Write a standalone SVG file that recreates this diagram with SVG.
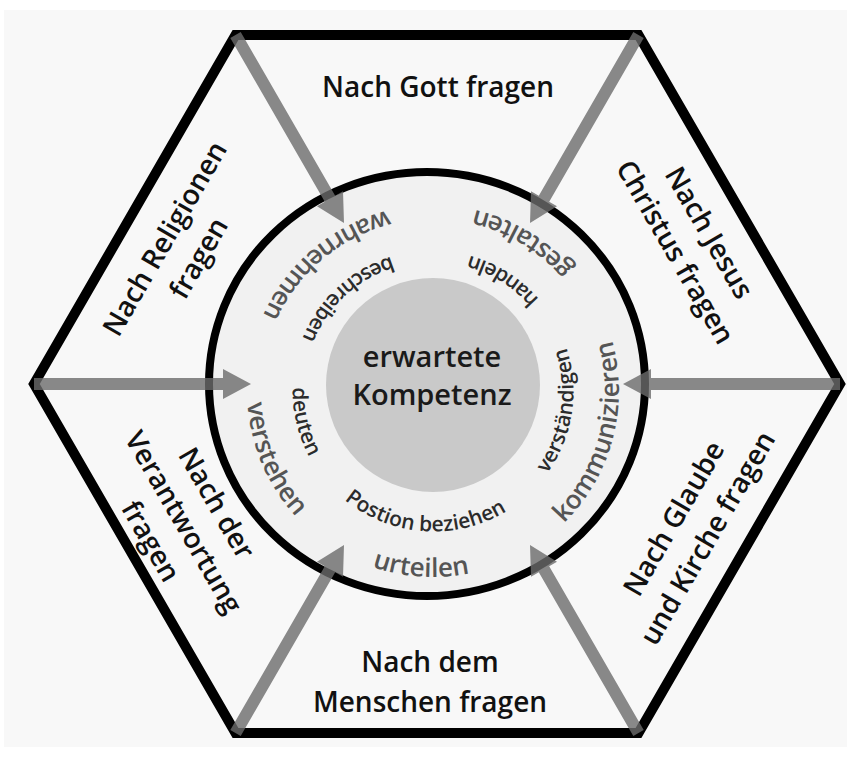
<svg xmlns="http://www.w3.org/2000/svg" width="847" height="757" viewBox="0 0 847 757">
  <style>
    text { font-family: "Open Sans", "Noto Sans", "DejaVu Sans", sans-serif; font-weight: 600; }
    .lab { font-size: 28px; fill: #111; text-anchor: middle; }
    .ctr { font-size: 29px; fill: #1a1a1a; text-anchor: middle; }
    .outer { font-size: 26px; fill: #555; }
    .inner { font-size: 21px; fill: #2b2b2b; }
    .arrow { fill: #6b6b6b; fill-opacity: 0.8; }
  </style>
  <defs>
    <path id="pOuter" d="M520.32,555.23 A186,186 0 0 0 345.68,226.77 A186,186 0 0 0 520.32,555.23"/>
    <path id="pInner" d="M529.16,494.12 A141,141 0 0 0 336.84,287.88 A141,141 0 0 0 529.16,494.12"/>
  </defs>
  <rect x="0" y="0" width="847" height="757" fill="#ffffff"/>
  <rect x="4" y="10" width="843" height="737" fill="#f8f8f8"/>

  <g id="hexagon">
    <polygon points="840,384 638.5,733 235.5,733 34,384 235.5,35 638.5,35" fill="none" stroke="#000" stroke-width="10" stroke-linejoin="miter"/>
  </g>

  <g id="ring">
    <ellipse cx="427" cy="384" rx="218" ry="212" fill="#f1f1f1" stroke="#000" stroke-width="8"/>
  </g>

  <g id="center">
    <circle cx="433" cy="385" r="107" fill="#c9c9c9"/>
    <text class="ctr" x="432" y="367">erwartete</text>
    <text class="ctr" x="432" y="405">Kompetenz</text>
  </g>

  <g id="competences">
    <text class="outer"><textPath href="#pOuter" startOffset="153.5" text-anchor="middle">kommunizieren</textPath></text>
    <text class="outer"><textPath href="#pOuter" startOffset="392.8" text-anchor="middle">gestalten</textPath></text>
    <text class="outer"><textPath href="#pOuter" startOffset="623.3" text-anchor="middle">wahrnehmen</textPath></text>
    <text class="outer"><textPath href="#pOuter" startOffset="860.3" text-anchor="middle">verstehen</textPath></text>
    <text class="outer"><textPath href="#pOuter" startOffset="1064.8" text-anchor="middle">urteilen</textPath></text>
    <text class="inner"><textPath href="#pInner" startOffset="93.5" text-anchor="middle">verständigen</textPath></text>
    <text class="inner"><textPath href="#pInner" startOffset="257.2" text-anchor="middle">handeln</textPath></text>
    <text class="inner"><textPath href="#pInner" startOffset="440.5" text-anchor="middle">beschreiben</textPath></text>
    <text class="inner"><textPath href="#pInner" startOffset="589.4" text-anchor="middle">deuten</textPath></text>
    <text class="inner"><textPath href="#pInner" startOffset="767.8" text-anchor="middle">Postion beziehen</textPath></text>
  </g>

  <g id="label-gott">
    <text class="lab" x="438" y="97">Nach Gott fragen</text>
  </g>
  <g id="label-jesus" transform="translate(693,242) rotate(60)">
    <text class="lab" x="0" y="-9">Nach Jesus</text>
    <text class="lab" x="0" y="30">Christus fragen</text>
  </g>
  <g id="label-glaube" transform="translate(690,528) rotate(-60)">
    <text class="lab" x="0" y="-9">Nach Glaube</text>
    <text class="lab" x="0" y="30">und Kirche fragen</text>
  </g>
  <g id="label-mensch">
    <text class="lab" x="430" y="672">Nach dem</text>
    <text class="lab" x="430" y="712">Menschen fragen</text>
  </g>
  <g id="label-verantwortung" transform="translate(184,522) rotate(60)">
    <text class="lab" x="0" y="-28">Nach der</text>
    <text class="lab" x="0" y="10">Verantwortung</text>
    <text class="lab" x="0" y="48">fragen</text>
  </g>
  <g id="label-religionen" transform="translate(181,248) rotate(-60)">
    <text class="lab" x="0" y="-9">Nach Religionen</text>
    <text class="lab" x="0" y="30">fragen</text>
  </g>

  <g id="connectors">
    <polygon class="arrow" points="840,378 651,378 651,369 623,384 651,399 651,390 840,390"/>
    <polygon class="arrow" points="34,378 223,378 223,369 251,384 223,399 223,390 34,390"/>
    <polygon class="arrow" points="230.3,38 324.8,201.7 317,206.2 344,222.9 343,191.2 335.2,195.7 240.7,32"/>
    <polygon class="arrow" points="643.7,38 549.2,201.7 557,206.2 530,222.9 531,191.2 538.8,195.7 633.3,32"/>
    <polygon class="arrow" points="240.7,736 335.2,572.3 343,576.8 344,545.1 317,561.8 324.8,566.3 230.3,730"/>
    <polygon class="arrow" points="633.3,736 538.8,572.3 531,576.8 530,545.1 557,561.8 549.2,566.3 643.7,730"/>
  </g>
</svg>
